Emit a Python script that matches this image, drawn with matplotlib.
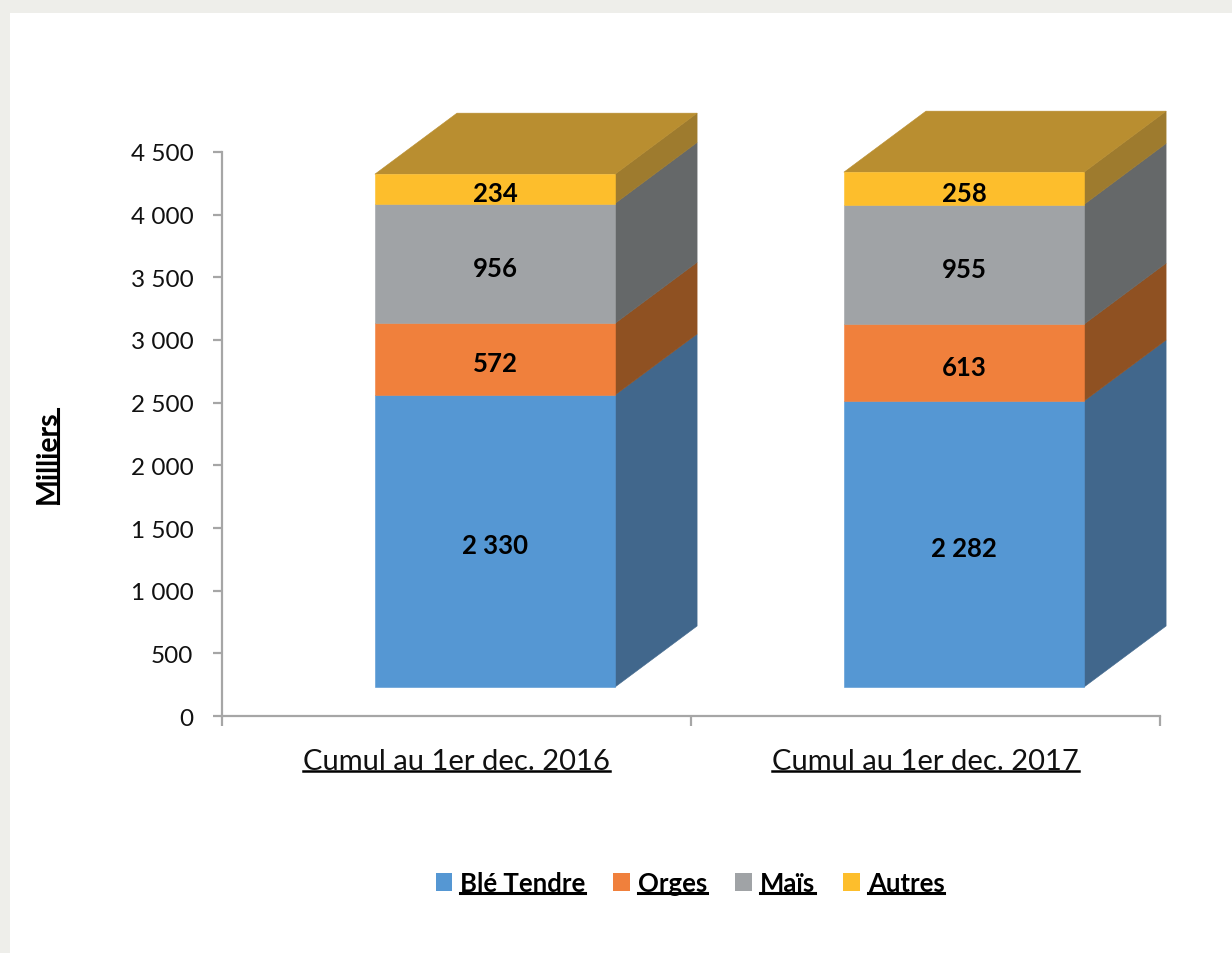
import matplotlib
matplotlib.use("Agg")
import matplotlib.pyplot as plt
from matplotlib.patches import Polygon, Patch, Rectangle
from matplotlib.lines import Line2D
from matplotlib.ticker import FuncFormatter

plt.rcParams['font.family'] = ['Lato', 'DejaVu Sans']

# ---- data ----
categories = ["Cumul au 1er dec. 2016", "Cumul au 1er dec. 2017"]
series_names = ["Blé Tendre", "Orges", "Maïs", "Autres"]
ble_tendre = [2330, 2282]
orges = [572, 613]
mais = [956, 955]
autres = [234, 258]
series_values = [ble_tendre, orges, mais, autres]

front_colors = ["#5597D3", "#F0803C", "#A0A3A6", "#FDBE2C"]
side_colors = ["#41678C", "#8F5122", "#656869", "#9E7B2E"]
top_color = "#B98E30"

# ---- geometry (3D look) ----
BAR_LEFT = 0.326      # front face left edge relative to category start
BAR_WIDTH = 0.512
DEPTH_X = 0.175
DEPTH_Y = 487.0
FRONT_OFFSET = 231.0  # front face floor above axis 0

fig = plt.figure(figsize=(12.32, 9.54), dpi=100)
fig.patch.set_facecolor("#EEEEEA")
fig.add_artist(Rectangle((10 / 1232, 0), 1 - 10 / 1232, 1 - 14 / 954,
                         transform=fig.transFigure, facecolor="white",
                         edgecolor="none", zorder=0))

ax = fig.add_axes([222 / 1232, 1 - 717 / 954, 938 / 1232, 564 / 954])
ax.set_facecolor("none")
ax.set_xlim(0, 2)
ax.set_ylim(0, 4500)

axis_gray = "#A6A6A6"
for s in ["top", "right"]:
    ax.spines[s].set_visible(False)
for s in ["left", "bottom"]:
    ax.spines[s].set_color(axis_gray)
    ax.spines[s].set_linewidth(1.6)

ax.set_yticks(range(0, 4501, 500))
ax.yaxis.set_major_formatter(FuncFormatter(lambda v, p: f"{int(v):,}".replace(",", " ")))
ax.tick_params(axis="y", direction="out", length=6.5, width=1.6, color=axis_gray,
               labelsize=17.5, pad=14, labelcolor="#111111")
ax.set_xticks([0, 1, 2])
ax.set_xticklabels(["", "", ""])
ax.tick_params(axis="x", which="major", direction="out", length=7.5, width=1.6, color=axis_gray)
ax.set_xticks([0.5, 1.5], minor=True)
ax.set_xticklabels(categories, minor=True)
ax.tick_params(axis="x", which="minor", length=0, labelsize=21, pad=23, labelcolor="#111111")

for i in range(len(categories)):
    x0 = i + BAR_LEFT
    x1 = x0 + BAR_WIDTH
    bottom = FRONT_OFFSET
    for k, vals in enumerate(series_values):
        v = vals[i]
        y0, y1 = bottom, bottom + v
        # side face
        ax.add_patch(Polygon([(x1, y0), (x1 + DEPTH_X, y0 + DEPTH_Y),
                              (x1 + DEPTH_X, y1 + DEPTH_Y), (x1, y1)],
                             closed=True, facecolor=side_colors[k],
                             edgecolor=side_colors[k], linewidth=0.4,
                             clip_on=False, zorder=2))
        ax.bar(x0, v, width=BAR_WIDTH, bottom=y0, align="edge",
               color=front_colors[k], edgecolor=front_colors[k],
               linewidth=0.4, zorder=3, clip_on=False)
        ax.annotate(f"{v:,}".replace(",", " "), (x0 + BAR_WIDTH / 2, y0 + v / 2),
                    xytext=(0, -3), textcoords="offset points",
                    ha="center", va="center", fontsize=18.5, fontweight="bold",
                    color="black", zorder=4)
        bottom = y1
    # top face
    ax.add_patch(Polygon([(x0, bottom), (x0 + DEPTH_X, bottom + DEPTH_Y),
                          (x1 + DEPTH_X, bottom + DEPTH_Y), (x1, bottom)],
                         closed=True, facecolor=top_color, edgecolor=top_color,
                         linewidth=0.4, clip_on=False, zorder=2))

ylab = fig.text(48 / 1232, 1 - 457 / 954, "Milliers", rotation=90, ha="center",
                va="center", fontsize=20.5, fontweight="bold", color="black")

handles = [Patch(facecolor=c, edgecolor="none") for c in front_colors]
leg = fig.legend(handles, series_names, loc="center", ncol=4,
                 bbox_to_anchor=(690 / 1232, 1 - 884 / 954), frameon=False,
                 prop={"size": 18.5, "weight": "bold"}, handlelength=0.65,
                 handleheight=0.65, handletextpad=0.3, columnspacing=1.1)

fig.canvas.draw()
renderer = fig.canvas.get_renderer()
W, H = fig.bbox.width, fig.bbox.height


def underline_h(t, lw=2.0, frac=0.09):
    bb = t.get_window_extent(renderer)
    fs = t.get_fontsize() * 100 / 72
    y = bb.y0 + frac * fs
    fig.add_artist(Line2D([bb.x0 / W, bb.x1 / W], [y / H, y / H],
                          transform=fig.transFigure, color="black", lw=lw))


for t in ax.get_xticklabels(minor=True):
    underline_h(t, lw=1.8)
for t in leg.get_texts():
    underline_h(t, lw=2.2)

bb = ylab.get_window_extent(renderer)
fs = ylab.get_fontsize() * 100 / 72
x = bb.x1 - 0.09 * fs
fig.add_artist(Line2D([x / W, x / W], [bb.y0 / H, bb.y1 / H],
                      transform=fig.transFigure, color="black", lw=2.2))

fig.savefig("out.png", dpi=100, facecolor=fig.get_facecolor())
